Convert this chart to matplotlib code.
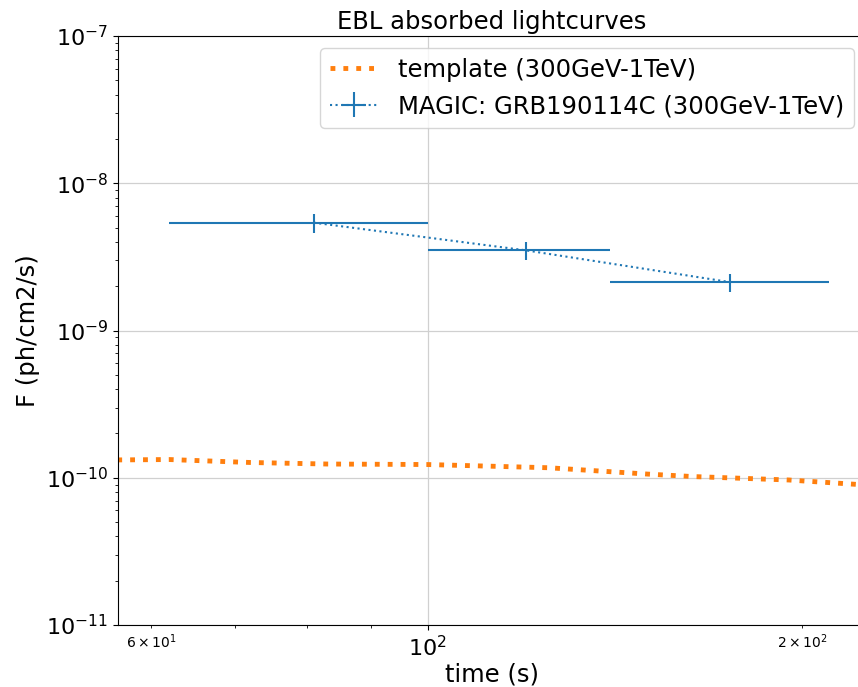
import matplotlib
matplotlib.use("Agg")
import matplotlib.pyplot as plt
import numpy as np

# template lightcurve (300GeV-1TeV), EBL absorbed
tmpl_time = [55, 62, 72, 83, 100, 125, 150, 163, 195, 225, 240]
tmpl_flux = [1.32e-10, 1.33e-10, 1.27e-10, 1.24e-10, 1.23e-10, 1.17e-10,
             1.06e-10, 1.02e-10, 9.66e-11, 8.93e-11, 8.7e-11]

# MAGIC GRB190114C time bins and fluxes
bin_lo = np.array([62, 100, 140])
bin_hi = np.array([100, 140, 210])
magic_flux = np.array([5.4e-9, 3.5e-9, 2.13e-9])
magic_err = np.array([0.8e-9, 0.5e-9, 0.3e-9])

t_mid = (bin_lo + bin_hi) / 2

fig = plt.figure(figsize=(8.58, 6.87), dpi=100)
ax1 = fig.add_axes([0.1375, 0.0902, 0.872, 0.8574])

ax1.plot(tmpl_time, tmpl_flux, ":", lw=3.5, color="C1", label="template (300GeV-1TeV)")
ax1.errorbar(t_mid, magic_flux, xerr=[t_mid - bin_lo, bin_hi - t_mid], yerr=magic_err,
             fmt=":", color="C0", lw=1.5, label="MAGIC: GRB190114C (300GeV-1TeV)")

ax1.set_xscale("log")
ax1.set_yscale("log")
ax1.set_xlim(56.4, 225)
ax1.set_ylim(1e-11, 1e-7)
ax1.grid(True, which="major", color="#d0d0d0", lw=0.9)
ax1.tick_params(axis="both", which="major", labelsize=16)
ax1.set_xlabel("time (s)", fontsize=17.5, labelpad=2)
ax1.set_ylabel("F (ph/cm2/s)", fontsize=17.5)
ax1.set_title("EBL absorbed lightcurves", fontsize=17.5, pad=5)
ax1.legend(loc="upper right", fontsize=17.5)

fig.savefig("out.png")
